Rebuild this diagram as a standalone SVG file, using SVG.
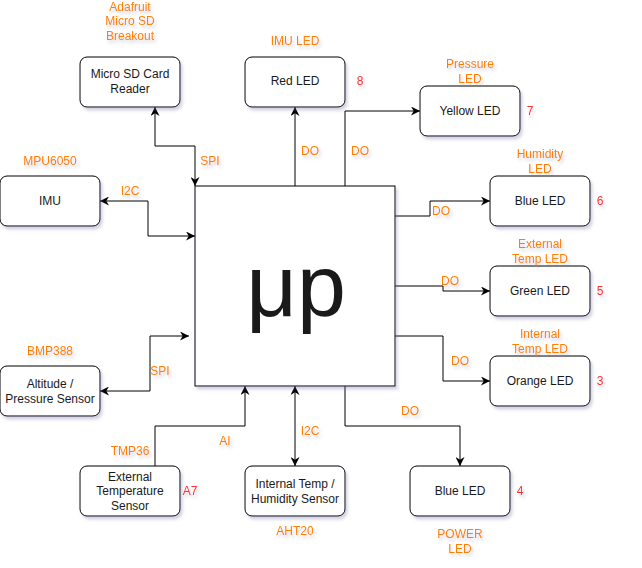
<svg xmlns="http://www.w3.org/2000/svg" width="642" height="568" viewBox="0 0 642 568">
<defs>
<filter id="sh" x="-20%" y="-20%" width="150%" height="150%">
<feDropShadow dx="2" dy="3" stdDeviation="1.5" flood-color="#6a6a9a" flood-opacity="0.3"/>
</filter>
<marker id="ae" viewBox="0 0 10 10" refX="10" refY="5" markerWidth="9" markerHeight="9" markerUnits="userSpaceOnUse" orient="auto">
<path d="M0,0 L10,5 L0,10 L3,5 Z" fill="#000"/>
</marker>
<marker id="as" viewBox="0 0 10 10" refX="0" refY="5" markerWidth="9" markerHeight="9" markerUnits="userSpaceOnUse" orient="auto">
<path d="M10,0 L0,5 L10,10 L7,5 Z" fill="#000"/>
</marker>
</defs>
<style>
.box{fill:#fff;stroke:#000;stroke-width:1;filter:url(#sh)}
.t{font-family:"Liberation Sans",Arial,sans-serif;font-size:12px;fill:#1a1a1a;text-anchor:middle}
.o{font-family:"Liberation Sans",Arial,sans-serif;font-size:12px;fill:#FF8000;text-anchor:middle;filter:url(#sh)}
.r{font-family:"Liberation Sans",Arial,sans-serif;font-size:12px;fill:#FF3333;text-anchor:middle;filter:url(#sh)}
.c{fill:none;stroke:#000;stroke-width:1}
</style>
<rect width="642" height="568" fill="#fff"/>
<g id="connectors">
<path class="c" d="M155,107 V146 H195 V186" marker-start="url(#as)" marker-end="url(#ae)"/>
<path class="c" d="M100,201 H148 V236 H195" marker-start="url(#as)" marker-end="url(#ae)"/>
<path class="c" d="M295,186 V107" marker-end="url(#ae)"/>
<path class="c" d="M345,186 V111 H420" marker-end="url(#ae)"/>
<path class="c" d="M395,216 H430 V201 H490" marker-end="url(#ae)"/>
<path class="c" d="M395,286 H443 V291 H490" marker-end="url(#ae)"/>
<path class="c" d="M395,336 H443 V381 H490" marker-end="url(#ae)"/>
<path class="c" d="M345,386 V426 H460 V466" marker-end="url(#ae)"/>
<path class="c" d="M100,391 H150 V336 H189" marker-start="url(#as)" marker-end="url(#ae)"/>
<path class="c" d="M155,466 V426 H245 V386" marker-end="url(#ae)"/>
<path class="c" d="M295,386 V466" marker-start="url(#as)" marker-end="url(#ae)"/>
<text class="o" x="210" y="165">SPI</text>
<text class="o" x="130" y="195">I2C</text>
<text class="o" x="310" y="155">DO</text>
<text class="o" x="360" y="155">DO</text>
<text class="o" x="441" y="215">DO</text>
<text class="o" x="450" y="285">DO</text>
<text class="o" x="460" y="365">DO</text>
<text class="o" x="410" y="415">DO</text>
<text class="o" x="160" y="375">SPI</text>
<text class="o" x="225" y="445">AI</text>
<text class="o" x="310" y="435">I2C</text>
</g>
<g id="mcu">
<rect x="195" y="186" width="200" height="200" fill="#fff" stroke="#000" stroke-width="1" filter="url(#sh)"/>
<text x="296" y="316" font-family="Liberation Sans,Arial,sans-serif" font-size="88" fill="#1a1a1a" text-anchor="middle">μp</text>
</g>
<g id="sd">
<rect class="box" x="80" y="57" width="100" height="50" rx="7"/>
<text class="t" x="130" y="78">Micro SD Card</text>
<text class="t" x="130" y="93">Reader</text>
<text class="o" x="130" y="11">Adafruit</text>
<text class="o" x="130" y="25">Micro SD</text>
<text class="o" x="130" y="40">Breakout</text>
</g>
<g id="redled">
<rect class="box" x="245" y="57" width="100" height="50" rx="7"/>
<text class="t" x="295" y="85">Red LED</text>
<text class="o" x="295" y="45">IMU LED</text>
<text class="r" x="360" y="85">8</text>
</g>
<g id="yellowled">
<rect class="box" x="420" y="86" width="100" height="50" rx="7"/>
<text class="t" x="470" y="115">Yellow LED</text>
<text class="o" x="470" y="68">Pressure</text>
<text class="o" x="470" y="83">LED</text>
<text class="r" x="530" y="115">7</text>
</g>
<g id="blueled">
<rect class="box" x="490" y="176" width="100" height="50" rx="7"/>
<text class="t" x="540" y="205">Blue LED</text>
<text class="o" x="540" y="158">Humidity</text>
<text class="o" x="540" y="173">LED</text>
<text class="r" x="600" y="205">6</text>
</g>
<g id="greenled">
<rect class="box" x="490" y="266" width="100" height="50" rx="7"/>
<text class="t" x="540" y="295">Green LED</text>
<text class="o" x="540" y="248">External</text>
<text class="o" x="540" y="263">Temp LED</text>
<text class="r" x="600" y="295">5</text>
</g>
<g id="orangeled">
<rect class="box" x="490" y="356" width="100" height="50" rx="7"/>
<text class="t" x="540" y="385">Orange LED</text>
<text class="o" x="540" y="338">Internal</text>
<text class="o" x="540" y="353">Temp LED</text>
<text class="r" x="600" y="385">3</text>
</g>
<g id="powerled">
<rect class="box" x="410" y="466" width="100" height="50" rx="7"/>
<text class="t" x="460" y="495">Blue LED</text>
<text class="o" x="460" y="538">POWER</text>
<text class="o" x="460" y="553">LED</text>
<text class="r" x="520" y="495">4</text>
</g>
<g id="imu">
<rect class="box" x="0" y="176" width="100" height="50" rx="7"/>
<text class="t" x="50" y="205">IMU</text>
<text class="o" x="50" y="165">MPU6050</text>
</g>
<g id="altitude">
<rect class="box" x="0" y="366" width="100" height="50" rx="7"/>
<text class="t" x="50" y="388">Altitude /</text>
<text class="t" x="50" y="403">Pressure Sensor</text>
<text class="o" x="50" y="355">BMP388</text>
</g>
<g id="exttemp">
<rect class="box" x="80" y="466" width="100" height="50" rx="7"/>
<text class="t" x="130" y="481">External</text>
<text class="t" x="130" y="495">Temperature</text>
<text class="t" x="130" y="510">Sensor</text>
<text class="o" x="130" y="455">TMP36</text>
<text class="r" x="190" y="495">A7</text>
</g>
<g id="inttemp">
<rect class="box" x="245" y="466" width="100" height="50" rx="7"/>
<text class="t" x="295" y="488">Internal Temp /</text>
<text class="t" x="295" y="503">Humidity Sensor</text>
<text class="o" x="295" y="535">AHT20</text>
</g>
</svg>
